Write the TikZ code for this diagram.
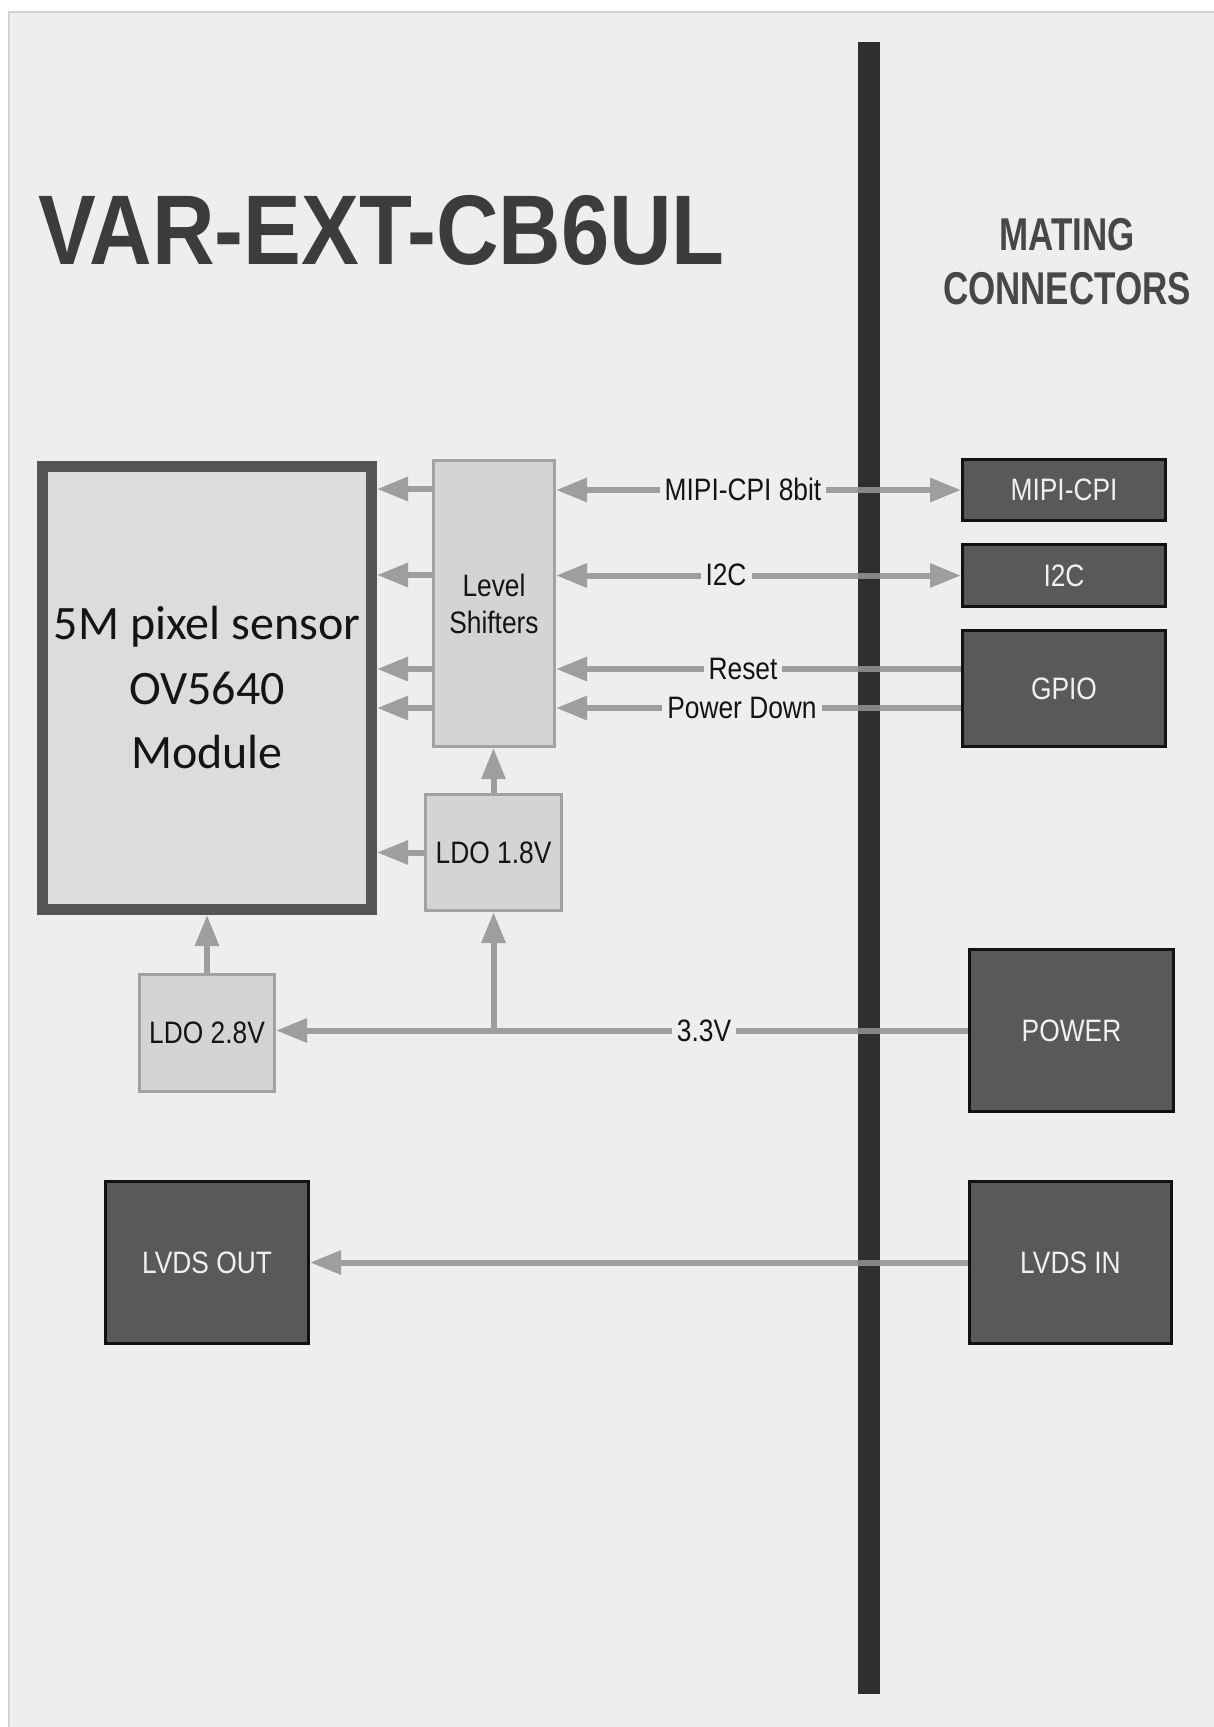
\documentclass[tikz,border=0pt]{standalone}
\usepackage{fontspec}
\usetikzlibrary{arrows.meta}
\newfontfamily\condfont[FakeStretch=0.85]{Liberation Sans}
\newfontfamily\titlefont[FakeStretch=0.875]{Liberation Sans}
\newfontfamily\headfont[FakeStretch=0.76]{Liberation Sans}
\newfontfamily\calfont{Carlito}
\definecolor{panel}{HTML}{EEEEEE}
\definecolor{panelborder}{HTML}{D2D2D2}
\definecolor{barc}{HTML}{2F2F2F}
\definecolor{arrowc}{HTML}{9E9E9E}
\definecolor{lsfill}{HTML}{D4D4D4}
\definecolor{lsborder}{HTML}{A2A2A2}
\definecolor{sensfill}{HTML}{DCDCDC}
\definecolor{sensborder}{HTML}{555555}
\definecolor{darkfill}{HTML}{595959}
\definecolor{darkborder}{HTML}{121212}
\definecolor{titlec}{HTML}{3C3C3C}
\definecolor{headc}{HTML}{474747}
\definecolor{txtc}{HTML}{141414}
\begin{document}
\begin{tikzpicture}[x=1pt,y=-1pt,
  lbltext/.style={font=\condfont\fontsize{31}{37}\selectfont},
  lightbox/.style={draw=lsborder, fill=lsfill, line width=3pt, inner sep=0pt,
    text=txtc, lbltext, align=center},
  darkbox/.style={draw=darkborder, fill=darkfill, line width=3pt, inner sep=0pt,
    text=white!94!black, lbltext, align=center},
  arr/.style={draw=arrowc, line width=6pt, -{Triangle[length=31pt,width=23pt]}},
  darr/.style={draw=arrowc, line width=6pt, {Triangle[length=31pt,width=23pt]}-{Triangle[length=31pt,width=23pt]}},
  linelbl/.style={fill=panel, text=txtc, lbltext, inner xsep=5pt, inner ysep=4pt}
]
\useasboundingbox (0,0) rectangle (1214,1727);
\fill[white] (0,0) rectangle (1214,1727);
\draw[draw=panelborder, fill=panel, line width=2pt] (9,12) rectangle (1240,1760);

% title
\node[anchor=base west, inner sep=0pt, text=titlec,
  font=\titlefont\bfseries\fontsize{99}{110}\selectfont] (title) at (38,264) {VAR-EXT-CB6UL};
\node[inner sep=0pt, text=headc, align=center,
  font=\headfont\bfseries\fontsize{46}{54}\selectfont] (mating) at (1067,262) {MATING\\CONNECTORS};

% connector bar
\fill[barc] (858,42) rectangle (880,1694);

% blocks
\node[draw=sensborder, fill=sensfill, line width=11pt, inner sep=0pt,
  minimum width=329pt, minimum height=443pt, text=txtc, align=center,
  font=\calfont\fontsize{48}{64.5}\selectfont] (sensor) at (207,688)
  {5M pixel sensor\\OV5640\\Module};
\node[lightbox, minimum width=121pt, minimum height=286pt] (ls) at (494,603.5) {Level\\Shifters};
\node[lightbox, minimum width=136pt, minimum height=116pt] (ldo18) at (493.5,852.5) {LDO 1.8V};
\node[lightbox, minimum width=135pt, minimum height=117pt] (ldo28) at (207,1033) {LDO 2.8V};

\node[darkbox, minimum width=203pt, minimum height=61pt] (mipi) at (1064,490) {MIPI-CPI};
\node[darkbox, minimum width=203pt, minimum height=62pt] (i2c) at (1064,575.5) {I2C};
\node[darkbox, minimum width=203pt, minimum height=116pt] (gpio) at (1064,688.5) {GPIO};
\node[darkbox, minimum width=204pt, minimum height=162pt] (power) at (1071.5,1030.5) {POWER};
\node[darkbox, minimum width=202pt, minimum height=162pt] (lvdsin) at (1070.5,1262.5) {LVDS IN};
\node[darkbox, minimum width=203pt, minimum height=162pt] (lvdsout) at (207,1262.5) {LVDS OUT};

% row coordinates
\coordinate (r1) at (0,489);
\coordinate (r2) at (0,575);
\coordinate (r3) at (0,669);
\coordinate (r4) at (0,708);

% level shifters -> sensor
\foreach \r in {r1,r2,r3,r4}
  \draw[arr] (ls.west |- \r) -- (sensor.east |- \r);

% connectors <-> level shifters
\draw[darr] (ls.east |- mipi.west) -- (mipi.west);
\draw[darr] (ls.east |- i2c.west) -- (i2c.west);
\draw[arr] (gpio.west |- r3) -- (ls.east |- r3);
\draw[arr] (gpio.west |- r4) -- (ls.east |- r4);

% power
\draw[arr] (power.west) -- (power.west -| ldo28.east);
\draw[arr] (ldo18.south |- power.west) -- (ldo18.south);
\draw[arr] (ldo18.north) -- (ldo18.north |- ls.south);
\draw[arr] (ldo18.west) -- (ldo18.west -| sensor.east);
\draw[arr] (ldo28.north) -- (ldo28.north |- sensor.south);

% lvds
\draw[arr] (lvdsin.west) -- (lvdsout.east);

% darken lines where they cross the bar
\fill[barc, opacity=0.22] (858,42) rectangle (880,1694);

% line labels
\node[linelbl] (lmipi) at (743,489) {MIPI-CPI 8bit};
\node[linelbl] (li2c) at (726,575) {I2C};
\node[linelbl] (lreset) at (743,669) {Reset};
\node[linelbl] (lpd) at (742,708) {Power Down};
\node[linelbl] (l33) at (704,1030.5) {3.3V};
\end{tikzpicture}
\end{document}
